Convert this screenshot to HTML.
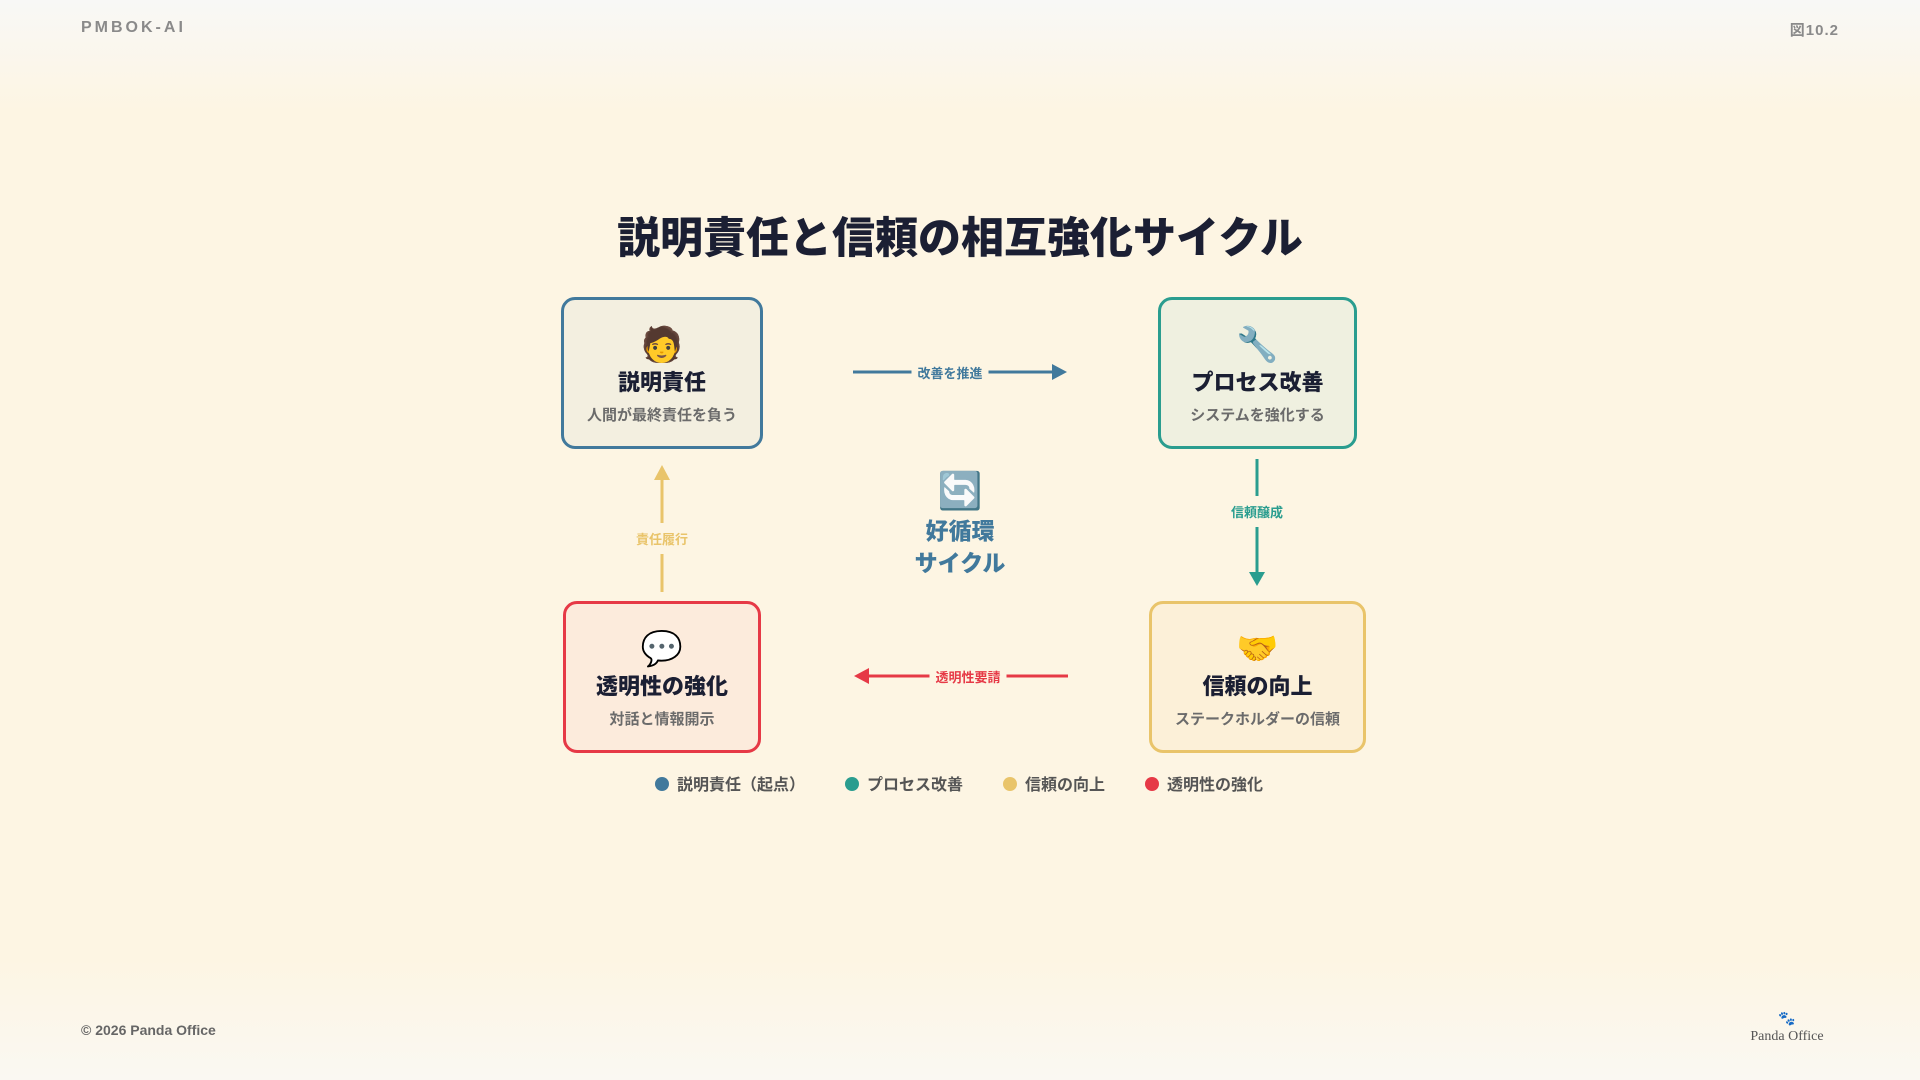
<!DOCTYPE html>
<html><head><meta charset="utf-8"><style>
*{margin:0;padding:0;box-sizing:border-box}
body{width:1920px;height:1080px;overflow:hidden;position:relative;font-family:"Liberation Sans","Noto Sans CJK JP",sans-serif;background:linear-gradient(#f8f8f6 0px,#fdf5e3 110px,#fdf5e3 960px,#faf8f2 1080px)}
.a{position:absolute}
.hdr{top:19px;font-size:16px;font-weight:bold;color:#8a8a8a;letter-spacing:3px}
.title{left:0;width:1920px;top:204px;text-align:center;font-size:43px;font-weight:900;color:#1b1f33}
.box{position:absolute;border:3px solid;border-radius:14px;text-align:center}
.box .e{font-size:34px;line-height:40px;margin-top:25px}
.box .t{font-size:22px;font-weight:900;color:#1b1f33;margin-top:3px;line-height:30px}
.box .s{font-size:15px;color:#6b6b6b;margin-top:6px;font-weight:bold}
.lbl{font-size:13px;font-weight:bold;background:#fdf5e3;padding:0 6px;white-space:nowrap}
.leg{top:771px;font-size:16px;font-weight:bold;color:#555;white-space:nowrap}
.leg i{display:inline-block;width:14px;height:14px;border-radius:50%;vertical-align:-1px;margin-right:8px}
</style></head><body>
<div class="a hdr" style="left:81px">PMBOK-AI</div>
<div class="a hdr" style="right:81px;letter-spacing:1px;font-size:15px;top:19px">図10.2</div>
<div class="a title">説明責任と信頼の相互強化サイクル</div>

<div class="box" style="left:561px;top:297px;width:202px;height:152px;border-color:#41799c;background:#f3efe0">
<div class="e">🧑</div><div class="t">説明責任</div><div class="s">人間が最終責任を負う</div></div>
<div class="box" style="left:1158px;top:297px;width:199px;height:152px;border-color:#2a9d8f;background:#eff0e0">
<div class="e">🔧</div><div class="t">プロセス改善</div><div class="s">システムを強化する</div></div>
<div class="box" style="left:563px;top:601px;width:198px;height:152px;border-color:#e63946;background:#fcebdc">
<div class="e">💬</div><div class="t">透明性の強化</div><div class="s">対話と情報開示</div></div>
<div class="box" style="left:1149px;top:601px;width:217px;height:152px;border-color:#e9c46a;background:#fcf0d8">
<div class="e">🤝</div><div class="t">信頼の向上</div><div class="s">ステークホルダーの信頼</div></div>

<svg class="a" style="left:0;top:0" width="1920" height="1080">
<line x1="853" y1="372" x2="1052" y2="372" stroke="#41799c" stroke-width="3"/>
<polygon points="1052,364 1067,372 1052,380" fill="#41799c"/>
<line x1="1257" y1="459" x2="1257" y2="572" stroke="#2a9d8f" stroke-width="3"/>
<polygon points="1249,572 1265,572 1257,586" fill="#2a9d8f"/>
<line x1="869" y1="676" x2="1068" y2="676" stroke="#e63946" stroke-width="3"/>
<polygon points="869,668 854,676 869,684" fill="#e63946"/>
<line x1="662" y1="480" x2="662" y2="592" stroke="#e9c46a" stroke-width="3"/>
<polygon points="654,480 670,480 662,465" fill="#e9c46a"/>
</svg>
<div class="a lbl" style="left:950px;top:363px;transform:translateX(-50%);color:#41799c">改善を推進</div>
<div class="a lbl" style="left:1257px;top:496px;transform:translateX(-50%);color:#2a9d8f;padding:6px 4px">信頼醸成</div>
<div class="a lbl" style="left:968px;top:667px;transform:translateX(-50%);color:#e63946">透明性要請</div>
<div class="a lbl" style="left:662px;top:523px;transform:translateX(-50%);color:#e9c46a;padding:6px 4px">責任履行</div>

<div class="a" style="left:0;width:1920px;top:470px;text-align:center;font-size:36px;line-height:42px">🔄</div>
<div class="a" style="left:0;width:1920px;top:515px;text-align:center;font-size:23px;font-weight:900;color:#41799c;line-height:32px">好循環<br>サイクル</div>

<div class="a leg" style="left:655px"><i style="background:#41799c"></i>説明責任（起点）</div>
<div class="a leg" style="left:845px"><i style="background:#2a9d8f"></i>プロセス改善</div>
<div class="a leg" style="left:1003px"><i style="background:#e9c46a"></i>信頼の向上</div>
<div class="a leg" style="left:1145px"><i style="background:#e63946"></i>透明性の強化</div>

<div class="a" style="left:81px;top:1022px;font-size:14px;font-weight:bold;color:#666">© 2026 Panda Office</div>
<div class="a" style="left:1747px;width:80px;top:1010px;text-align:center;font-size:14px;color:#444">🐾</div>
<div class="a" style="left:1737px;width:100px;top:1029px;text-align:center;font-family:'Liberation Serif',serif;font-size:14px;color:#555">Panda Office</div>
</body></html>
